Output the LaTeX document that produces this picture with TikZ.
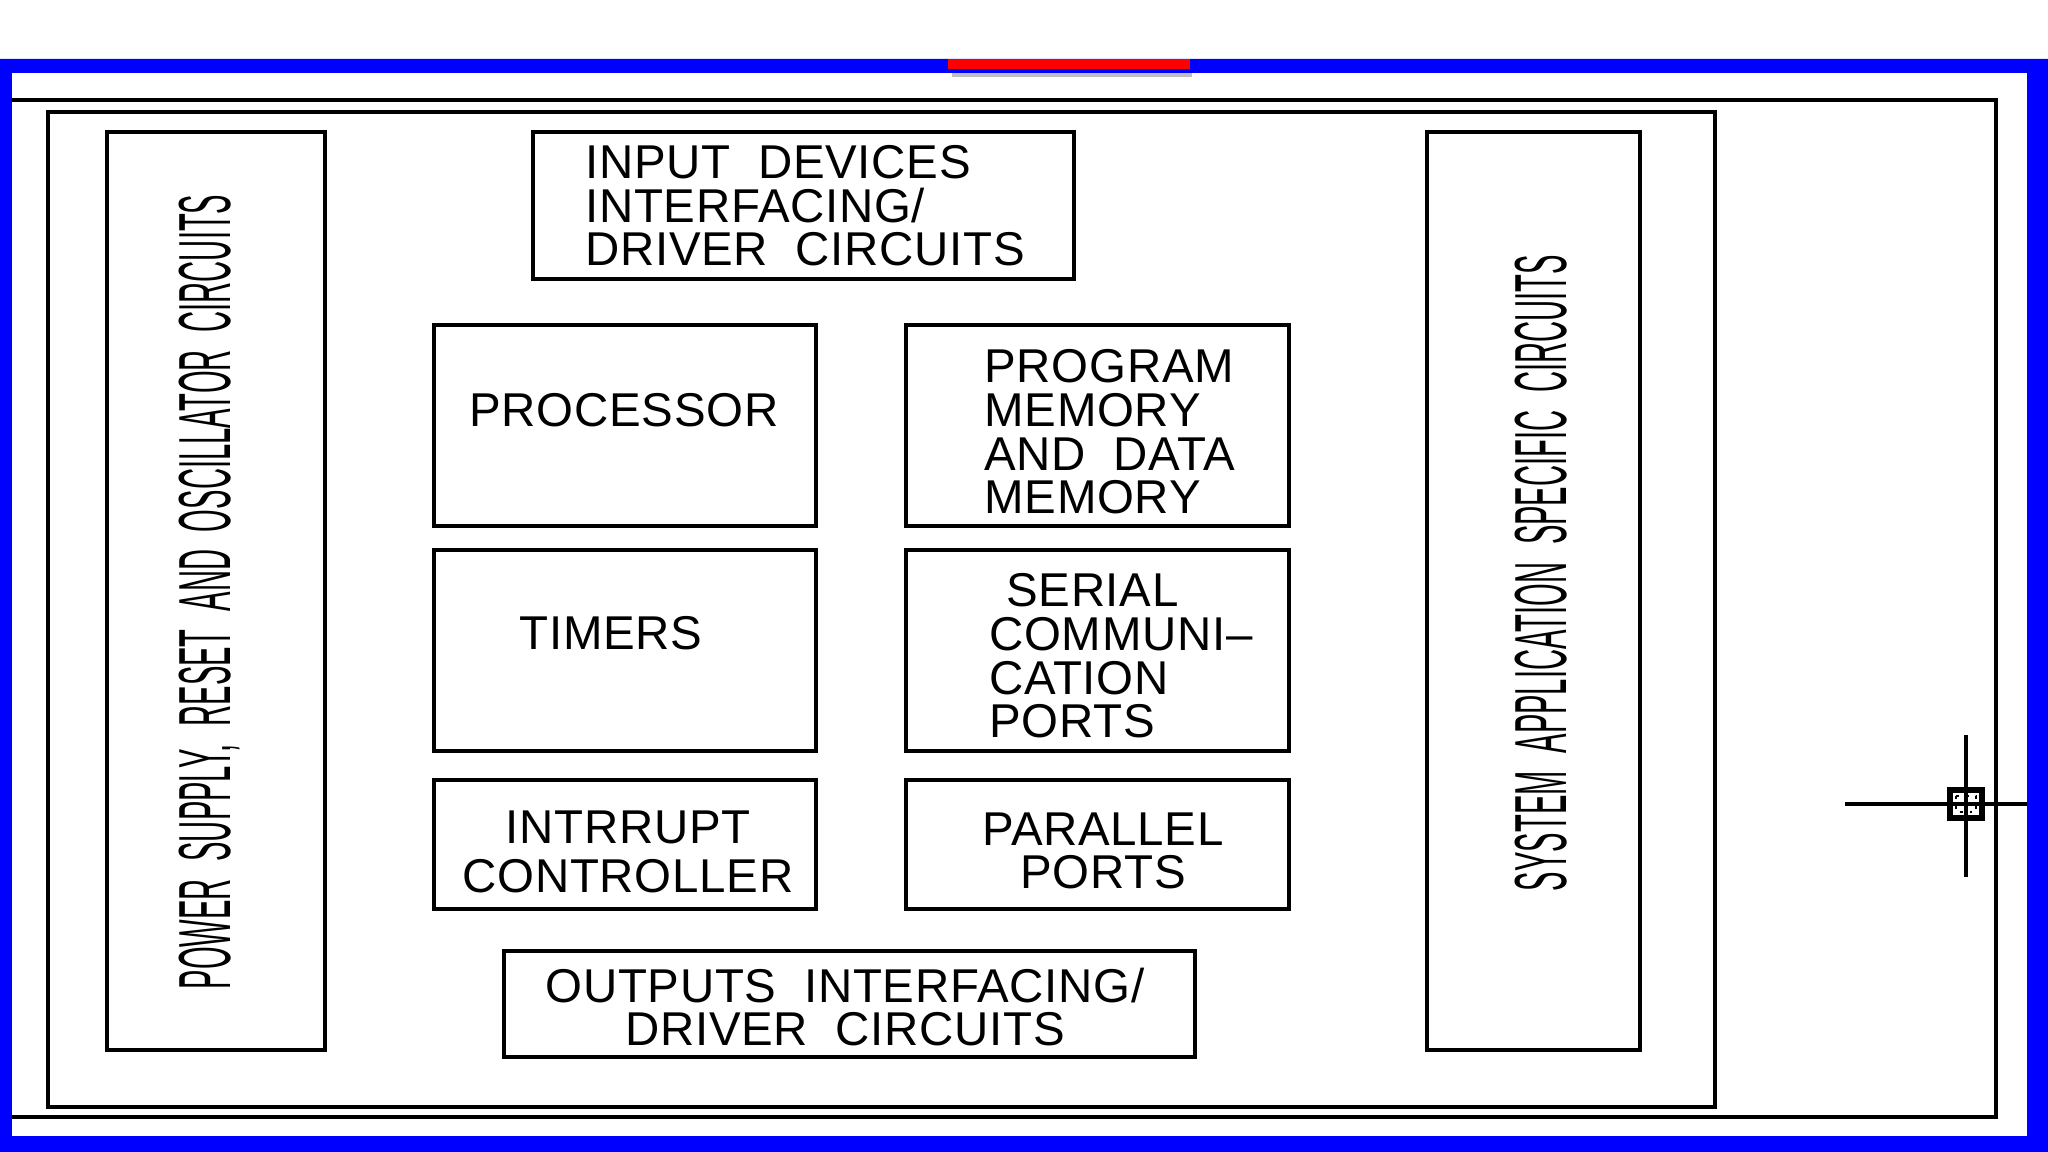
\documentclass[tikz,border=0pt]{standalone}
\usepackage{fontspec}
\setmainfont{Liberation Sans}[LetterSpace=1.5, WordSpace=2]
\newfontfamily\tallfont[FakeStretch=0.395, WordSpace=2.2]{Liberation Sans}
\definecolor{frameblue}{RGB}{0, 0, 255}
\definecolor{tabred}{RGB}{255, 0, 0}
\usetikzlibrary{positioning}

\begin{document}
\begin{tikzpicture}[
    block/.style={draw, line width=1.3pt, inner sep=0pt},
    lbl/.style={font=\fontsize{13.5}{12.4}\selectfont, inner sep=0pt},
    side/.style={font=\tallfont\fontsize{21}{21}\selectfont, rotate=90, inner sep=0pt}]
    \useasboundingbox (0,0) rectangle (20.48,-11.52);

    % frames
    \draw[line width=1.3pt] (0.05,-1.00) -| (19.96,-11.17) -- (0.05,-11.17);
    \draw[line width=1.3pt] (0.48,-1.12) rectangle (17.15,-11.07);

    % side columns
    \node[block, minimum width=2.18cm, minimum height=9.18cm] (power) at (2.16,-5.91) {};
    \node[side] at (2.09,-5.92) {POWER SUPPLY, RESET AND OSCILLATOR CIRCUITS};
    \node[block, minimum width=2.13cm, minimum height=9.18cm] (system) at (15.335,-5.91) {};
    \node[side] at (15.41,-5.73) {SYSTEM APPLICATION SPECIFIC CIRCUITS};

    % core blocks
    \node[block, minimum width=5.41cm, minimum height=1.47cm] (input) at (8.035,-2.055) {};
    \node[lbl, align=left] at (8.05,-2.06) {INPUT DEVICES\\INTERFACING/\\DRIVER CIRCUITS};

    \node[block, minimum width=3.82cm, minimum height=2.01cm] (proc) at (6.25,-4.255) {};
    \node[lbl] at (6.24,-4.10) {PROCESSOR};
    \node[block, minimum width=3.83cm, minimum height=2.01cm] (mem) at (10.975,-4.255) {};
    \node[lbl, align=left] at (11.10,-4.32) {PROGRAM\\MEMORY\\AND DATA\\MEMORY};

    \node[block, minimum width=3.82cm, minimum height=2.01cm] (timers) at (6.25,-6.505) {};
    \node[lbl] at (6.11,-6.33) {TIMERS};
    \node[block, minimum width=3.83cm, minimum height=2.01cm] (serial) at (10.975,-6.505) {};
    \node[lbl, align=left] at (11.21,-6.56) {\hspace*{0.17cm}SERIAL\\COMMUNI--\\CATION\\PORTS};

    \node[block, minimum width=3.82cm, minimum height=1.29cm] (intr) at (6.25,-8.445) {};
    \node[lbl, align=center, font=\fontsize{13.5}{13.8}\selectfont] at (6.28,-8.52) {INTRRUPT\\CONTROLLER};
    \node[block, minimum width=3.83cm, minimum height=1.29cm] (par) at (10.975,-8.445) {};
    \node[lbl, align=center] at (11.03,-8.51) {PARALLEL\\PORTS};

    \node[block, minimum width=6.91cm, minimum height=1.06cm] (output) at (8.495,-10.04) {};
    \node[lbl, align=center] at (8.45,-10.07) {OUTPUTS INTERFACING/\\DRIVER CIRCUITS};

    % cursor mark
    \draw[line width=1.1pt] (18.45,-8.04) -- (20.27,-8.04);
    \draw[line width=1.1pt] (19.66,-7.35) -- (19.66,-8.77);
    \draw[line width=1.5pt] (19.50,-7.90) rectangle (19.82,-8.18);
    \draw[dotted, line width=0.8pt] (19.56,-7.96) rectangle (19.76,-8.12);

    % screen border
    \fill[frameblue, even odd rule] (0,-0.59) rectangle (20.48,-11.52) (0.12,-0.73) rectangle (20.27,-11.36);
    \fill[black!25] (9.52,-0.73) rectangle (11.92,-0.77);
    \fill[tabred] (9.48,-0.59) rectangle (11.90,-0.69);
\end{tikzpicture}
\end{document}
